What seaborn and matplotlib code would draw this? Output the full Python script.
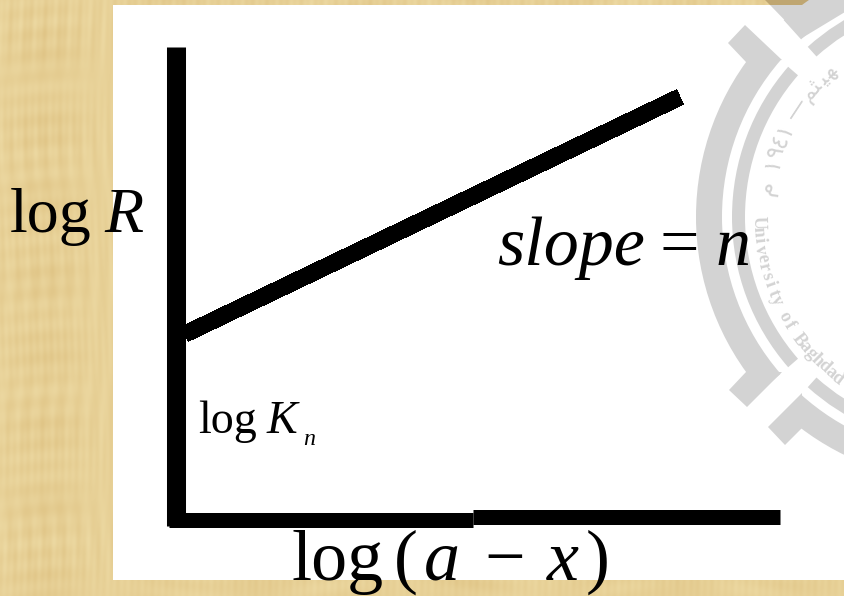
import numpy as np
import pandas as pd
import seaborn as sns
import matplotlib.pyplot as plt
from matplotlib.patches import Polygon, Rectangle, Wedge

# chart values, in picture units
y_axis_x = [176.5, 176.5]
y_axis_y = [47, 526]
x_axis_left_x = [169, 473]
x_axis_left_y = [519.5, 519.5]
x_axis_right_x = [473, 780]
x_axis_right_y = [516.5, 516.5]
fit_x = [185, 680]
fit_y = [334, 97]

serif = "Liberation Serif"
sns.set_theme(style="white")

fig = plt.figure(figsize=(8.45, 5.96), dpi=100)
ax = fig.add_axes([0, 0, 1, 1])
ax.set_xlim(0, 845)
ax.set_ylim(596, 0)
ax.axis("off")

# papyrus background, uneven fibres
xx, yy = np.meshgrid(np.arange(845), np.arange(596))
grain = (np.sin(xx * 0.37 + 2 * np.sin(yy * 0.017)) * (0.6 + 0.4 * np.sin(yy * 0.05))
         + 0.6 * np.sin(xx * 0.91 + 1.0 + 3 * np.sin(yy * 0.011)) * np.sin(yy * 0.029 + 1)
         + 0.5 * np.sin(xx * 0.059 + 2.0)
         + 0.7 * np.sin(yy * 0.29 + 2 * np.sin(xx * 0.021)) * (0.5 + 0.5 * np.sin(xx * 0.043))
         + 0.5 * np.sin(yy * 0.083 + 0.5) * np.sin(xx * 0.031))
tex = np.zeros((596, 845, 3))
for i, c in enumerate([231, 208, 150]):
    tex[:, :, i] = (c + grain * 2.4 * (1 + 0.6 * i)) / 255
ax.imshow(tex, extent=(0, 845, 596, 0), aspect="auto", zorder=0)
ax.add_patch(Polygon([(765, 0), (845, 0), (845, 5), (770, 5)], fc="#BFA671", ec="none", zorder=1))

panel = Rectangle((113, 5), 732, 575, fc="white", ec="none", zorder=1)
ax.add_patch(panel)

# faded university stamp
grey = "#D3D3D3"
cx, cy = 961, 217
stamp = [
    Wedge((cx, cy), 265, 139, 221, width=26),
    Wedge((cx, cy), 265, 95, 132, width=26),
    Wedge((cx, cy), 265, 228, 265, width=26),
    Wedge((cx, cy), 229, 139, 221, width=13),
    Wedge((cx, cy), 229, 95, 132, width=13),
    Wedge((cx, cy), 229, 228, 265, width=13),
    Polygon([(746, 62), (728, 43), (745, 25), (782, 60)]),
    Polygon([(746, 372), (729, 390), (747, 407), (782, 372)]),
    Polygon([(802, 393), (768, 427), (785, 445), (802, 428)]),
    Polygon([(770, 5), (802, 38), (845, 12), (845, 5)]),
]
for s in stamp:
    s.set(fc=grey, ec="none", zorder=2)
    ax.add_patch(s)


def arc_text(chars, thetas, r, flip=False, **kw):
    for ch, th in zip(chars, thetas):
        x = cx + r * np.cos(np.radians(th))
        y = cy + r * np.sin(np.radians(th))
        rot = 90 - th + (180 if flip else 0)
        ax.text(x, y, ch, rotation=rot, rotation_mode="anchor", ha="center", va="center",
                color=grey, zorder=2, clip_on=True, **kw)


uni = "University of Baghdad"
arc_text(uni, [178.5 - 2.55 * i for i in range(len(uni))], 203, family=serif, fontsize=13, weight="bold")
arc_text(["\u0645", "\u0661", "\u0669", "\u0664", "\u0661", "\u2014"],
         [188.5, 196, 199.5, 203, 206.5, 213.5], 197, flip=True, family="DejaVu Sans", fontsize=17)
arc_text(["\ufee2", "\ufe9c", "\ufef4", "\ufeec"], [219, 222, 225, 228], 195, flip=True,
         family="DejaVu Sans", fontsize=16)

# axes and fitted line
axis_kw = dict(color="black", legend=False, ax=ax, zorder=3, solid_capstyle="butt", errorbar=None, sort=False)
sns.lineplot(data=pd.DataFrame({"x": y_axis_x, "y": y_axis_y}), x="x", y="y", linewidth=13.7, estimator=None, **axis_kw)
sns.lineplot(data=pd.DataFrame({"x": x_axis_left_x, "y": x_axis_left_y}), x="x", y="y", linewidth=10.8, estimator=None, **axis_kw)
sns.lineplot(data=pd.DataFrame({"x": x_axis_right_x, "y": x_axis_right_y}), x="x", y="y", linewidth=10.8, estimator=None, **axis_kw)
sns.lineplot(data=pd.DataFrame({"x": fit_x, "y": fit_y}), x="x", y="y", linewidth=11.5, estimator=None,
             antialiased=False, **axis_kw)
ax.set_xlim(0, 845)
ax.set_ylim(596, 0)


def label(x, y, s, px, italic=False):
    ax.text(x, y, s, fontsize=px * 0.72, family=serif, style="italic" if italic else "normal",
            color="black", ha="left", va="baseline", zorder=4)


label(10, 232, "log", 64)
label(104, 232, "R", 64, True)
label(198, 433, "log", 46)
label(267, 433, "K", 46, True)
label(303, 445, "n", 24, True)
label(292, 580, "log", 72)
label(394, 580, "(", 72)
label(424, 580, "a", 72, True)
label(484, 580, "\u2212", 72)
label(547, 580, "x", 72, True)
label(586, 580, ")", 72)
label(497, 265, "slope", 70, True)
label(660, 265, "=", 70)
label(716, 265, "n", 70, True)

fig.savefig("out.png", dpi=100)
